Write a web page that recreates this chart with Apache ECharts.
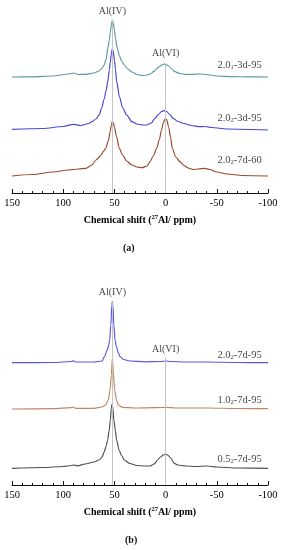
<!DOCTYPE html>
<html>
<head>
<meta charset="utf-8">
<script src="https://cdn.jsdelivr.net/npm/echarts@6/dist/echarts.min.js"></script>
<style>
html,body{margin:0;padding:0;background:#fff;}
#c{width:284px;height:550px;}
</style>
</head>
<body>
<div id="c"></div>
<script>
// x: chemical shift (ppm); y: stacked intensity (arbitrary units)
const xTicks = { min: -100, max: 150, interval: 50 };
const peakPositions = [52, 0];
const peakNames = ['Al(IV)', 'Al(VI)'];

// Panel (a)
const a_2_01_3d95 = [
 [150,116],[130,116.2],[110,117],[95,119],[90,120],[85,118.5],[78,118.7],[70,120],[65,122],[62,125],[60,128],[58,134],
 [56.5,144.7],[55,153],[54,161],[53,168],[52,173],[51,170],[50,163],[49,155],[47.2,144.7],[45,137],[43,132],[40.3,128],
 [37,124],[33,121],[28,118.5],[23,117.5],[18,118],[14,119.5],[12,121.3],[9,124],[6,126.5],[3,128.5],[1.5,129],[0,128.7],
 [-3,127],[-6,124],[-9,121.3],[-14,119.5],[-20,118.5],[-27,118.7],[-33.6,119],[-40,118.5],[-50,117],[-65,116.3],[-80,116.2],[-100,116]
];
const a_2_02_3d95 = [
 [150,63.7],[120,64.5],[100,66.5],[90,68.7],[83,67.5],[75,69.5],[72,71.3],[68,74],[65,78],[62.4,85],[60,94],[58,103],
 [56.5,111.3],[55,123],[54,131],[53,139],[52,144.5],[51,141],[50,133],[49,124],[47.8,111.3],[45,96],[41.9,85],[38,78],
 [33,71.3],[28,69],[22,68],[18.5,68],[14,70],[10.4,74.7],[7,78.5],[4,81.5],[1.5,82.3],[-1,81.5],[-4,78.5],[-7.5,74.7],
 [-12,71.5],[-18,69.5],[-25,67.5],[-33.6,66.3],[-38,66.5],[-45,65.5],[-60,64],[-100,63]
];
const a_2_02_7d60 = [
 [150,17],[130,18.5],[110,21],[95,23],[85,24],[78,24.7],[72,28],[68,33],[66,34.7],[63,38],[60.5,42],[58.5,44.7],
 [56,52],[54,62],[53,68],[52,71.3],[51,70],[50,66],[48,57],[45.2,44.7],[42,38],[38,32],[33,28],[28,26],[23,25.3],
 [18,27],[15.2,31.3],[12,37],[8.7,44.7],[6,54],[4,63],[2,71],[0.5,74],[-1,73.5],[-3,66],[-5,55],[-6.5,44.7],[-10,36],
 [-14,31.3],[-18,27.5],[-22,25],[-27,23.5],[-32,24],[-38,24.7],[-43,23.5],[-50,21],[-60,19],[-75,17.5],[-100,17]
];
// Panel (b)
const b_2_02_7d95 = [
 [150,122.3],[110,122.5],[92,123.5],[90,124.2],[88,123],[70,123],[62,124],[59.8,128.3],[57,135],[55.5,140],[54.6,145],
 [53.5,160],[52.5,180],[52,183.3],[51.5,180],[50.5,160],[49.4,145],[48,138],[46,132],[44.5,128.3],[41,125.5],[35,124],
 [20,123.2],[5,123.5],[0,124],[-5,123.5],[-20,123],[-40,123],[-70,122.5],[-100,122.3]
];
const b_1_02_7d95 = [
 [150,76],[110,76.3],[92,77.3],[90,78],[88,76.7],[70,76.7],[62,78],[58.6,80],[56,85],[54.3,95],[53,110],[52,126.7],
 [51,113],[49.7,95],[48,85],[46.2,80],[42,77.7],[30,77],[10,77.3],[0,77.7],[-10,77],[-40,77],[-70,76.5],[-100,76.3]
];
const b_0_52_7d95 = [
 [150,16.7],[120,17.5],[100,18.5],[92,19.5],[90,20],[86,19.2],[78.6,21],[70,23],[65,25],[62,28],[60,33],[58,39],
 [56.6,45],[55,55],[54,65],[53,77],[52.3,80.7],[51.5,77],[50.5,65],[49.2,55],[47.8,45],[45.5,35],[43,29.5],[40.3,25],
 [35,21.5],[28,19.5],[20,19],[15,19],[12,20.5],[10.4,21.7],[8,25],[5,28],[2,30.2],[0.5,30.7],[-2,30],[-5,27],[-8.5,21.7],
 [-12,20],[-20,19],[-30,18.5],[-40,19],[-50,18],[-70,17],[-100,16.7]
];

// sample names: [main, subscript, rest]
const namesA = [['2.0','1','-3d-95'],['2.0','2','-3d-95'],['2.0','2','-7d-60']];
const namesB = [['2.0','2','-7d-95'],['1.0','2','-7d-95'],['0.5','2','-7d-95']];
const nameYA = [128, 75, 33];
const nameYB = [130, 85, 26];
const nameX = -94;
// peak marker lines [x, yTop] and label heights
const guideTopA = [173, 129];
const guideTopB = [183, 128];
const peakLabelYA = [182, 140];
const peakLabelYB = [193, 136];

const FONT = 'Liberation Serif';
const colorsA = ['#5e9c9c', '#4a48d4', '#9a4a2c'];
const colorsB = ['#5a58de', '#c08866', '#505050'];

const chart = echarts.init(document.getElementById('c'), null, {renderer: 'canvas'});

function xAxisDef(gridIndex) {
  return {
    gridIndex, type: 'value', inverse: true,
    min: xTicks.min, max: xTicks.max, interval: xTicks.interval,
    axisLine: {show: true, onZero: false, lineStyle: {color: '#111', width: 1}},
    axisTick: {show: true, inside: true, length: 4, lineStyle: {color: '#111'}},
    minorTick: {show: true, splitNumber: 5, length: 2, lineStyle: {color: '#111'}},
    splitLine: {show: false},
    axisLabel: {fontFamily: FONT, fontSize: 10.5, color: '#000', margin: 5},
    name: '{t|Chemical shift (}{s|27}{t|Al/ ppm)}',
    nameLocation: 'middle', nameGap: 21,
    nameTextStyle: {
      rich: {
        t: {fontFamily: FONT, fontSize: 10, fontWeight: 'bold', color: '#000', lineHeight: 12},
        s: {fontFamily: FONT, fontSize: 6.5, fontWeight: 'bold', color: '#000', lineHeight: 7, verticalAlign: 'top'}
      }
    }
  };
}
function yAxisDef(gridIndex, max) {
  return {gridIndex, type: 'value', min: 0, max, show: false, splitLine: {show: false}};
}
function curve(data, color, idx) {
  return {type: 'line', xAxisIndex: idx, yAxisIndex: idx, data, showSymbol: false, symbol: 'none',
    smooth: 0.3, smoothMonotone: 'x', lineStyle: {color, width: 1.2}, silent: true, animation: false, z: 3};
}
function guides(tops, idx) {
  return {type: 'line', xAxisIndex: idx, yAxisIndex: idx, data: [], silent: true, animation: false, z: 1,
    markLine: {symbol: 'none', silent: true, label: {show: false},
      lineStyle: {color: '#c4c4c4', width: 1, type: 'solid'},
      data: peakPositions.map((p, i) => [{coord: [p, tops[i]]}, {coord: [p, 0]}])}};
}
const richName = {
  m: {fontFamily: FONT, fontSize: 10.5, color: '#111', lineHeight: 12},
  u: {fontFamily: FONT, fontSize: 6.5, color: '#111', lineHeight: 7, verticalAlign: 'bottom'}
};
function nameLabels(names, ys, idx) {
  return {type: 'scatter', xAxisIndex: idx, yAxisIndex: idx, symbolSize: 0, silent: true, animation: false,
    data: names.map((n, i) => ({value: [nameX, ys[i]], n})),
    label: {show: true, position: 'inside', align: 'right', verticalAlign: 'middle',
      formatter: p => '{m|' + p.data.n[0] + '}{u|' + p.data.n[1] + '}{m|' + p.data.n[2] + '}', rich: richName}};
}
function peakLabels(ys, idx) {
  return {type: 'scatter', xAxisIndex: idx, yAxisIndex: idx, symbolSize: 0, silent: true, animation: false,
    data: peakPositions.map((p, i) => ({value: [p, ys[i]], t: peakNames[i]})),
    label: {show: true, position: 'inside', formatter: p => p.data.t,
      fontFamily: FONT, fontSize: 10, color: '#111'}};
}

chart.setOption({
  animation: false,
  backgroundColor: '#fff',
  grid: [
    {left: 12, right: 16, top: 3, height: 190},
    {left: 12, right: 16, top: 285, height: 200}
  ],
  xAxis: [xAxisDef(0), xAxisDef(1)],
  yAxis: [yAxisDef(0, 190), yAxisDef(1, 200)],
  series: [
    guides(guideTopA, 0), guides(guideTopB, 1),
    curve(a_2_01_3d95, colorsA[0], 0), curve(a_2_02_3d95, colorsA[1], 0), curve(a_2_02_7d60, colorsA[2], 0),
    curve(b_2_02_7d95, colorsB[0], 1), curve(b_1_02_7d95, colorsB[1], 1), curve(b_0_52_7d95, colorsB[2], 1),
    nameLabels(namesA, nameYA, 0), nameLabels(namesB, nameYB, 1),
    peakLabels(peakLabelYA, 0), peakLabels(peakLabelYB, 1)
  ],
  graphic: [
    {type: 'text', left: 123, top: 243, style: {text: '(a)', font: 'bold 10px "Liberation Serif"', fill: '#111'}},
    {type: 'text', left: 125, top: 535, style: {text: '(b)', font: 'bold 10px "Liberation Serif"', fill: '#111'}}
  ]
});
</script>
</body>
</html>
